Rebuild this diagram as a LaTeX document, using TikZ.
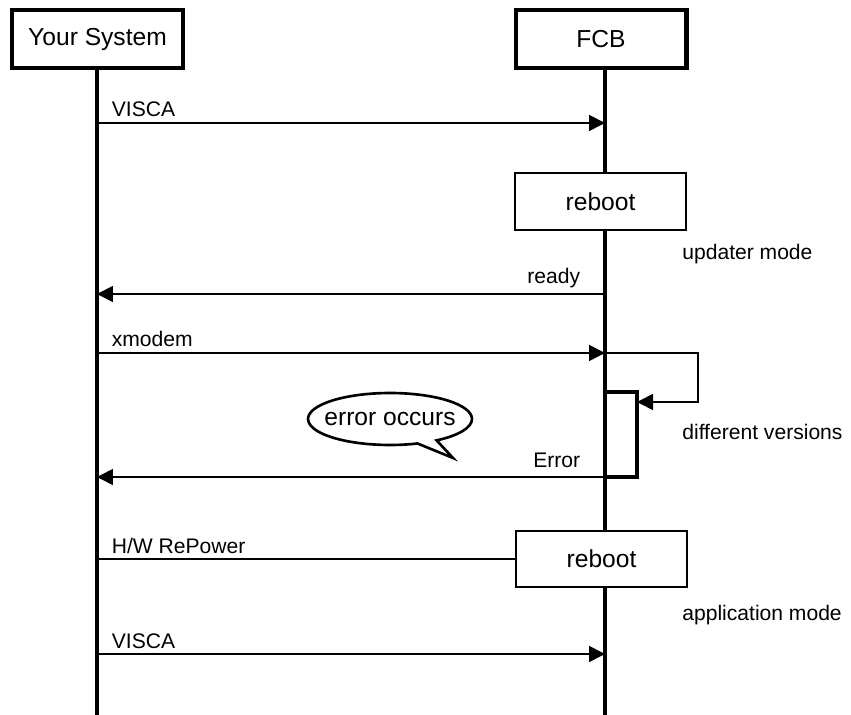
\documentclass[tikz,border=0pt]{standalone}
\usepackage{fontspec}
\setmainfont{Liberation Sans}
\usetikzlibrary{arrows.meta,shapes.callouts}

\begin{document}
\begin{tikzpicture}[x=0.02cm, y=-0.02cm, >={Triangle[length=0.32cm,width=0.32cm]},
    head/.style={draw, line width=2.3pt, fill=white, minimum width=3.42cm, minimum height=1.16cm, font=\fontsize{14}{16}\selectfont},
    statebox/.style={draw, line width=1.3pt, fill=white, minimum width=3.42cm, minimum height=1.13cm, font=\fontsize{14}{16}\selectfont},
    actbox/.style={draw, line width=1.9pt, fill=white, minimum width=0.64cm, minimum height=1.7cm, inner sep=0pt, outer sep=0pt},
    lifeline/.style={line width=1.8pt},
    msg/.style={line width=1pt},
    lbl/.style={font=\fontsize{12}{14}\selectfont, inner sep=0pt}]
    \useasboundingbox (0,0) rectangle (851,715);

    % Lifeline heads
    \node[head] (sys) at (97.5,39) {Your System};
    \node[head] (fcb) at (601,39) {FCB};

    % Points on the lifelines
    \foreach \n/\y in {visca/123, ready/294, xmodem/353, loop/402, error/477, hw/559, visca2/654, end/715} {
        \coordinate (sys-\n) at (97,\y);
        \coordinate (fcb-\n) at (605,\y);
    }
    \coordinate (loop-top) at (698,353);
    \coordinate (loop-bot) at (698,402);

    % Lifelines
    \draw[lifeline] (sys-end |- sys.south) -- (sys-end);
    \draw[lifeline] (fcb-end |- fcb.south) -- (fcb-end);

    % Reboot boxes and activation
    \node[statebox] (reboot1) at (600.5,201.5) {reboot};
    \node[statebox] (reboot2) at (601.5,559) {reboot};
    \node[actbox] (act) at (621,434.5) {};

    % Side notes
    \node[lbl, anchor=base west] (updater) at (682,260) {updater mode};
    \node[lbl, anchor=base west] (versions) at (682,440) {different versions};
    \node[lbl, anchor=base west] (appmode) at (682,620) {application mode};

    % Messages
    \draw[msg, ->] (sys-visca) -- (fcb-visca) node[pos=0, lbl, anchor=base west, xshift=0.28cm, yshift=0.12cm] {VISCA};
    \draw[msg, ->] (fcb-ready) -- (sys-ready) node[pos=0, lbl, anchor=base east, xshift=-0.48cm, yshift=0.2cm] {ready};
    \draw[msg, ->] (sys-xmodem) -- (fcb-xmodem) node[pos=0, lbl, anchor=base west, xshift=0.28cm, yshift=0.12cm] {xmodem};
    \draw[msg, ->] (fcb-xmodem) -- (loop-top) -- (loop-bot) -- (act.east |- loop-bot);
    \draw[msg, ->] (fcb-error) -- (sys-error) node[pos=0, lbl, anchor=base east, xshift=-0.48cm, yshift=0.2cm] {Error};
    \draw[msg] (sys-hw) -- (reboot2.west) node[pos=0, lbl, anchor=base west, xshift=0.28cm, yshift=0.12cm] {H/W RePower};
    \draw[msg, ->] (sys-visca2) -- (fcb-visca2) node[pos=0, lbl, anchor=base west, xshift=0.28cm, yshift=0.12cm] {VISCA};

    % Speech bubble
    \node[ellipse callout, draw, line width=1.5pt, fill=white, minimum width=3.28cm, minimum height=1.04cm, inner sep=0pt,
        callout absolute pointer={(453,458)}, font=\fontsize{14}{16}\selectfont] (bubble) at (390,419) {\makebox[0pt]{error occurs}};
\end{tikzpicture}
\end{document}
